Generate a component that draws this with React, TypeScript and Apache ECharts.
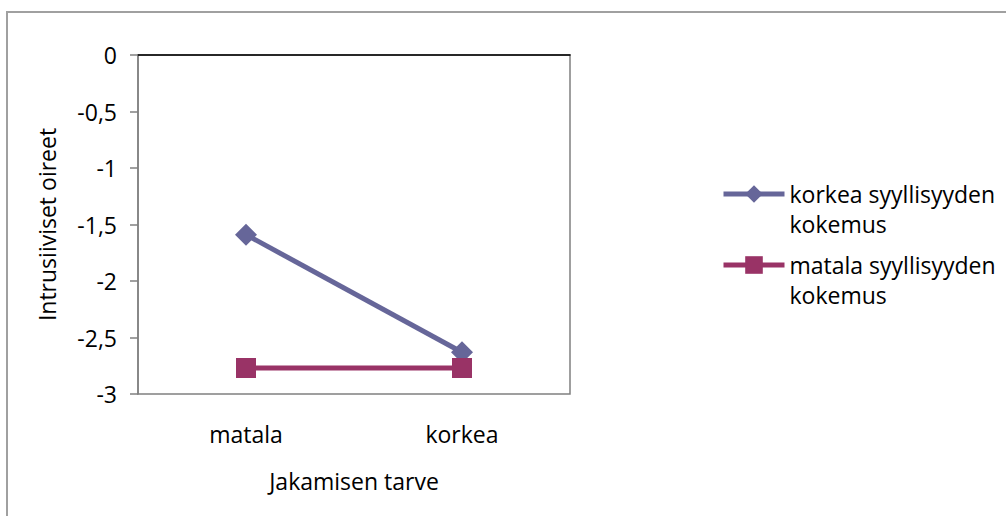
import React, { useEffect, useRef } from "react";
import * as echarts from "echarts";

// Categories on the x axis
const categories = ["matala", "korkea"];

// Series names and values
const seriesNames = ["korkea syyllisyyden\nkokemus", "matala syyllisyyden\nkokemus"];
const korkeaValues = [-1.59, -2.63];
const matalaValues = [-2.77, -2.77];

const xAxisTitle = "Jakamisen tarve";
const yAxisTitle = "Intrusiiviset oireet";

const FONT = "Open Sans";

export default function App() {
  const ref = useRef<HTMLDivElement>(null);

  useEffect(() => {
    if (!ref.current) return;
    const chart = echarts.init(ref.current, undefined, { renderer: "svg" });

    const legendBase = {
      orient: "vertical",
      left: 716,
      itemWidth: 61,
      itemHeight: 22,
      selectedMode: false,
      lineStyle: { width: 5 },
      // a blank leading line keeps the first text line level with the icon
      formatter: (name: string) => " \n" + name,
      textStyle: {
        fontFamily: FONT,
        fontSize: 23,
        color: "#000",
        lineHeight: 30,
      },
    };

    chart.setOption({
      animation: false,
      backgroundColor: "#fff",
      textStyle: { fontFamily: FONT },
      graphic: [
        {
          type: "rect",
          shape: { x: 7, y: 12, width: 1100, height: 600 },
          style: { fill: "none", stroke: "#a0a0a0", lineWidth: 2 },
          z: 100,
        },
      ],
      grid: {
        left: 138,
        top: 55,
        width: 432,
        height: 339,
        show: true,
        borderColor: "#808080",
        borderWidth: 1.5,
        backgroundColor: "transparent",
      },
      legend: [
        { ...legendBase, data: [seriesNames[0]], top: 144 },
        { ...legendBase, data: [seriesNames[1]], top: 215 },
      ],
      xAxis: {
        type: "category",
        data: categories,
        boundaryGap: true,
        name: xAxisTitle,
        nameLocation: "middle",
        nameGap: 75,
        nameTextStyle: { fontFamily: FONT, fontSize: 23, color: "#000" },
        axisLine: { lineStyle: { color: "#000", width: 1.5 } },
        axisTick: { show: false },
        axisLabel: {
          margin: 28,
          fontFamily: FONT,
          fontSize: 23,
          color: "#000",
        },
        splitLine: { show: false },
      },
      yAxis: {
        type: "value",
        min: -3,
        max: 0,
        interval: 0.5,
        name: yAxisTitle,
        nameLocation: "middle",
        nameGap: 80,
        nameRotate: 90,
        nameTextStyle: { fontFamily: FONT, fontSize: 23, color: "#000" },
        axisLine: { show: true, lineStyle: { color: "#808080", width: 1.5 } },
        axisTick: {
          show: true,
          length: 8,
          lineStyle: { color: "#808080", width: 1.5 },
        },
        axisLabel: {
          margin: 21,
          fontFamily: FONT,
          fontSize: 23,
          color: "#000",
          formatter: (v: number) => String(v).replace(".", ","),
        },
        splitLine: { show: false },
      },
      series: [
        {
          name: seriesNames[0],
          type: "line",
          data: korkeaValues,
          symbol: "diamond",
          symbolSize: 22,
          color: "#666699",
          lineStyle: { color: "#666699", width: 5 },
          itemStyle: { color: "#666699" },
          z: 3,
        },
        {
          name: seriesNames[1],
          type: "line",
          data: matalaValues,
          symbol: "rect",
          symbolSize: 20,
          color: "#993366",
          lineStyle: { color: "#993366", width: 5 },
          itemStyle: { color: "#993366" },
          z: 4,
        },
      ],
    });

    return () => chart.dispose();
  }, []);

  return (
    <div
      ref={ref}
      style={{ position: "fixed", left: 0, top: 0, width: 1006, height: 516 }}
    />
  );
}
